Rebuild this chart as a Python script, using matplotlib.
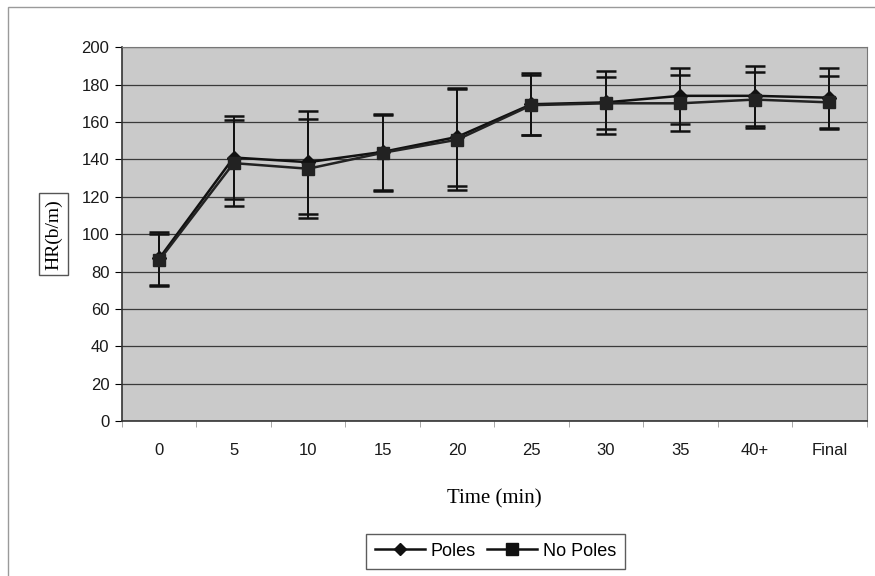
import numpy as np
import matplotlib.pyplot as plt
from matplotlib.patches import Rectangle
from matplotlib.lines import Line2D

categories = ['0', '5', '10', '15', '20', '25', '30', '35', '40+', 'Final']
poles_mean = [87, 141, 138.5, 144, 152, 169.5, 170.5, 174, 174, 173]
poles_sd = [14, 22, 27.5, 20.5, 26, 16.5, 17, 15, 16, 16]
nopoles_mean = [86, 138, 135, 143.5, 150.5, 169, 170, 170, 172, 170.5]
nopoles_sd = [14, 23, 26.5, 20.5, 27, 16, 14, 15, 15, 14]

fig = plt.figure(figsize=(8.75, 5.76), dpi=100)
fig.patch.set_facecolor('white')
# outer chart frame
fig.add_artist(Rectangle((0.009, -0.01), 1.2, 0.997, transform=fig.transFigure,
                         fill=False, edgecolor='#9a9a9a', linewidth=1.0))

ax = fig.add_axes([0.1394, 0.269, 0.8509, 0.649])
ax.set_facecolor('#cacaca')
x = np.arange(len(categories))

ERR_attr = {'ecolor': '#111111', 'elinewidth': 1.4, 'capsize': 7, 'capthick': 1.8}
ax.errorbar(x, poles_mean, yerr=poles_sd, color='#111111', lw=1.8, marker='D',
            markersize=7, **ERR_attr)
ax.errorbar(x, nopoles_mean, yerr=nopoles_sd, color='#222222', lw=1.8, marker='s',
            markersize=8.5, **ERR_attr)

ax.set_xlim(-0.5, len(categories) - 0.5)
ax.set_ylim(0, 200)
ax.set_yticks(range(0, 201, 20))
ax.yaxis.grid(True, color='#3a3a3a', linewidth=0.9)
ax.set_axisbelow(True)
ax.set_xticks(x)
ax.set_xticklabels(categories)
ax.set_xticks(np.arange(-0.5, len(categories), 1), minor=True)
ax.tick_params(axis='x', which='major', length=0, pad=16)
ax.tick_params(axis='x', which='minor', length=4, color='#999999')
ax.tick_params(axis='y', length=5, pad=4)
for lab in ax.get_xticklabels() + ax.get_yticklabels():
    lab.set_fontfamily('Liberation Sans')
    lab.set_fontsize(12)
    lab.set_color('#1a1a1a')

for s in ['left', 'bottom']:
    ax.spines[s].set_color('#333333')
    ax.spines[s].set_linewidth(1.2)
ax.spines['top'].set_color('#777777')
ax.spines['right'].set_color('#777777')

ax.set_xlabel('Time (min)', fontfamily='Liberation Serif', fontsize=15, labelpad=22)
ax.set_ylabel('HR(b/m)', fontfamily='Liberation Serif', fontsize=14, labelpad=14,
              bbox={'boxstyle': 'square,pad=0.3', 'facecolor': 'white', 'edgecolor': '#555555'})

legend_elements = [Line2D([0], [0], color='#111111', lw=1.8, marker='D', markersize=6, label='Poles'),
                   Line2D([0], [0], color='#111111', lw=1.8, marker='s', markersize=8, label='No Poles')]
leg = fig.legend(handles=legend_elements, loc='center', bbox_to_anchor=(0.566, 0.043), ncol=2,
                 frameon=True, fancybox=False, edgecolor='#333333', handlelength=2.8,
                 columnspacing=0.6, handletextpad=0.3, borderpad=0.5,
                 prop={'family': 'Liberation Sans', 'size': 13})
leg.get_frame().set_linewidth(1.0)

fig.savefig('out.png', dpi=100)
